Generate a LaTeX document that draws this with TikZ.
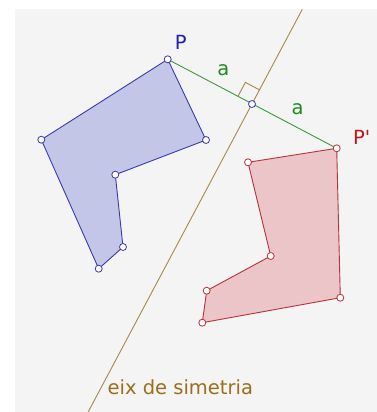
\documentclass[tikz,border=0pt]{standalone}
\usepackage{fontspec}
\setmainfont{DejaVu Sans}
\usetikzlibrary{calc}
\definecolor{bg}{HTML}{F4F4F4}
\definecolor{blueline}{HTML}{3A3AB0}
\definecolor{bluefill}{HTML}{C4C6E8}
\definecolor{redline}{HTML}{B83238}
\definecolor{redfill}{HTML}{EBC5C7}
\definecolor{greenline}{HTML}{3C9A3C}
\definecolor{greentext}{HTML}{1E8C1E}
\definecolor{axisc}{HTML}{A8884A}
\definecolor{axistext}{HTML}{9A6E1C}
\definecolor{ptext}{HTML}{2020A8}
\definecolor{pptext}{HTML}{C01818}
\tikzset{
  vtx/.style={circle,draw=#1,fill=white,line width=0.8pt,inner sep=0pt,minimum size=7pt},
  lbl/.style={font=\fontsize{19.5}{19.5}\selectfont,inner sep=0pt,anchor=base}
}
\begin{document}
\begin{tikzpicture}[x=1pt,y=-1pt]
\useasboundingbox (0,0) rectangle (377,412);
\fill[bg] (15,9) rectangle (377,412);
% axis
\coordinate (A1) at (302.3,9.3);
\coordinate (A2) at (88.3,411.7);
\draw[axisc,line width=0.9pt] (A1) -- (A2);
% blue polygon
\coordinate (P) at (167.7,59.3);
\coordinate (B2) at (206,140);
\coordinate (B3) at (115.3,174.7);
\coordinate (B4) at (123,247);
\coordinate (B5) at (98.7,268.7);
\coordinate (B6) at (41.3,139.7);
\filldraw[fill=bluefill,draw=blueline,line width=0.9pt,line join=round] (P) -- (B2) -- (B3) -- (B4) -- (B5) -- (B6) -- cycle;
% red polygon
\coordinate (Q) at (336.7,148.3);
\coordinate (R2) at (340.3,297.7);
\coordinate (R3) at (202.3,322.7);
\coordinate (R4) at (206.7,290.7);
\coordinate (R5) at (270.7,256);
\coordinate (R6) at (248,162.3);
\filldraw[fill=redfill,draw=redline,line width=0.9pt,line join=round] (Q) -- (R2) -- (R3) -- (R4) -- (R5) -- (R6) -- cycle;
% segment P P'
\coordinate (M) at (252,104);
\draw[greenline,line width=0.9pt] (P) -- (Q);
% right angle mark
\coordinate (RA1) at ($(M)!16pt!(P)$);
\coordinate (RA2) at ($(M)!16pt!(A1)$);
\draw[axisc,line width=0.9pt] (RA1) -- ($(RA1)+(RA2)-(M)$) -- (RA2);
% vertices
\foreach \c in {P,B2,B3,B4,B5,B6} \node[vtx=blueline] (n\c) at (\c) {};
\foreach \c in {Q,R2,R3,R4,R5,R6} \node[vtx=redline] (n\c) at (\c) {};
\node[vtx=blueline] (nM) at (M) {};
% labels
\node[lbl,text=ptext] (lP) at (180.7,49.3) {P};
\node[lbl,text=pptext,anchor=base west] (lQ) at (353,144) {P\textquotesingle};
\node[lbl,text=greentext] (la1) at (223.3,75) {a};
\node[lbl,text=greentext] (la2) at (297.7,114) {a};
\node[lbl,text=axistext,anchor=base west] (lax) at (107.5,394.3) {eix de simetria};
\end{tikzpicture}
\end{document}
